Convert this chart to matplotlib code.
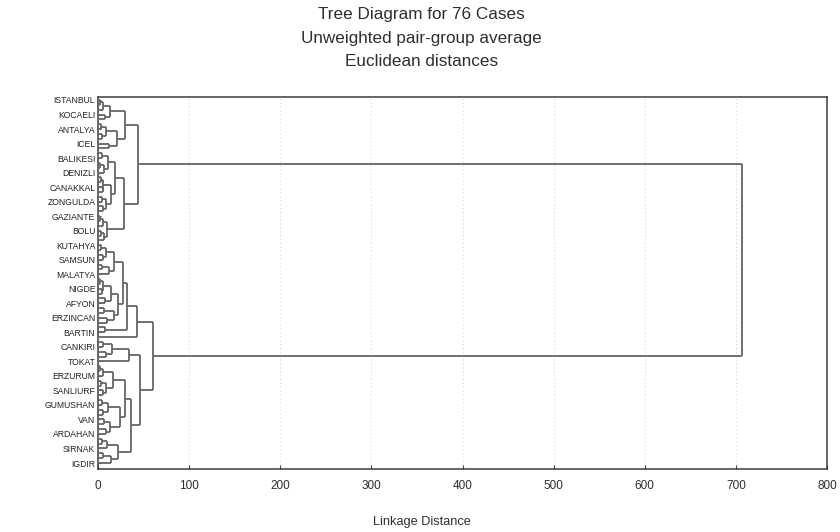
import matplotlib
matplotlib.use("Agg")
import matplotlib.pyplot as plt
from matplotlib import font_manager

# ---------------- data ----------------
title_lines = ["Tree Diagram for 76 Cases",
               "Unweighted pair-group average",
               "Euclidean distances"]
x_label = "Linkage Distance"
x_ticks = [0, 100, 200, 300, 400, 500, 600, 700, 800]
n_cases = 76
label_step = 3          # every third case is labelled
case_labels = ["ISTANBUL", "KOCAELI", "ANTALYA", "ICEL", "BALIKESI", "DENIZLI",
               "CANAKKAL", "ZONGULDA", "GAZIANTE", "BOLU", "KUTAHYA", "SAMSUN",
               "MALATYA", "NIGDE", "AFYON", "ERZINCAN", "BARTIN", "CANKIRI",
               "TOKAT", "ERZURUM", "SANLIURF", "GUMUSHAN", "VAN", "ARDAHAN",
               "SIRNAK", "IGDIR"]

# clusters as (linkage distance, left, right); integers are cases in tree order
A1 = (13, (5, (2, 0, 1), 2), (8, 3, 4))
A2 = (21, (9, (3, 5, 6), (4, 7, 8)), (12, 9, 10))
B1 = (19, (11, (4, 11, 12), (7, (2.5, 13, 14), 15)),
      (14, (6, (3, 16, 17), (5, 18, 19)), (9, (4, 20, 21), (6, 22, 23))))
B2 = (10, (6, (2, 24, 25), 26), (7, (3, 27, 28), 29))
UPPER = (44, (30, A1, A2), (28.5, B1, B2))

C1a = (27, (18, (9, (3, 30, 31), (5, 32, 33)), (12, (4, 34, 35), 36)),
       (22, (14, (6, (2, 37, 38), (4, 39, 40)), (8, 41, 42)),
        (17, (7, 43, 44), (10, 45, 46))))
C = (43, (31.8, C1a, (8, 47, 48)), 49)
D1 = (34, (15, (6, 50, 51), (9, 52, 53)), 54)
D2a = (30, (16, (6, (2, 55, 56), 57), (9, (3, 58, 59), (5, 60, 61))),
       (24, (11, (4, 62, 63), (6, 64, 65)), (13, (7, 66, 67), (9, 68, 69))))
D2b = (22, (10, (4, 70, 71), 72), (14, (6, 73, 74), 75))
LOWER = (59.8, C, (46.5, D1, (36, D2a, D2b)))

ROOT = (707, UPPER, LOWER)

# ---------------- fonts ----------------
installed = {f.name for f in font_manager.fontManager.ttflist}
if "Liberation Sans Narrow" in installed:
    lab_family, lab_size = ["Liberation Sans Narrow", "DejaVu Sans"], 7.2
else:
    lab_family, lab_size = ["Liberation Sans", "DejaVu Sans"], 6.2
txt_family = ["Liberation Sans", "DejaVu Sans"]

line_col = "#666666"
text_col = "#2e2e2e"

fig = plt.figure(figsize=(8.4, 5.32), dpi=100)
ax = fig.add_axes([0.1167, 0.1184, 0.8679, 0.6993])


def draw(node):
    """Draw a cluster; return (position, height)."""
    if isinstance(node, int):
        return float(node), 0.0
    h, left, right = node
    pl, hl = draw(left)
    pr, hr = draw(right)
    kw = dict(color=line_col, lw=1.3, solid_capstyle="butt", zorder=3)
    ax.plot([hl, h], [pl, pl], **kw)
    ax.plot([hr, h], [pr, pr], **kw)
    ax.plot([h, h], [pl, pr], **kw)
    return (pl + pr) / 2.0, h


draw(ROOT)

ax.set_xlim(0, 800)
ax.set_ylim(n_cases + 0.24, -0.62)

ax.set_xticks(x_ticks)
ax.set_xticklabels([str(t) for t in x_ticks], family=txt_family, fontsize=8.5, color=text_col)
label_pos = [i * label_step for i in range(len(case_labels))]
ax.set_yticks(label_pos)
ax.set_yticklabels(case_labels, family=lab_family, fontsize=lab_size, color="#222222")
ax.tick_params(axis="x", direction="in", length=3, width=0.8, color="#444444", pad=8)
ax.tick_params(axis="y", direction="in", length=2, width=0.8, color="#444444", pad=2)

for t in x_ticks[1:-1]:
    ax.axvline(t, color="#cccccc", lw=0.7, ls=(0, (1, 3)), zorder=1)

for s in ax.spines.values():
    s.set_color("#3a3a3a")
    s.set_linewidth(1.1)

ax.set_xlabel(x_label, family=txt_family, fontsize=9.2, color=text_col)
ax.xaxis.set_label_coords(0.444, -0.125)

for txt, yy in zip(title_lines, [14, 38, 61]):
    fig.text(0.502, 1 - yy / 532, txt, ha="center", va="center",
             family=txt_family, fontsize=12.3, color=text_col)

fig.savefig("out.png", dpi=100)
